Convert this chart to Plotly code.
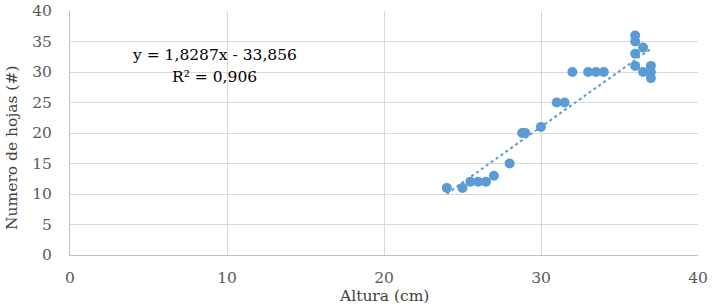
import plotly.graph_objects as go
import numpy as np

altura = [24, 25, 25.5, 26, 26.5, 27, 28, 28.8, 29, 30, 31, 31.5, 32, 33, 33.5, 34,
          36, 36, 36.5, 36, 36, 36.5, 37, 37, 37]
hojas = [11, 11, 12, 12, 12, 13, 15, 20, 20, 21, 25, 25, 30, 30, 30, 30,
         36, 35, 34, 33, 31, 30, 31, 30, 29]

slope = 1.8287
intercept = -33.856
r2 = 0.906

x_tick_vals = [0, 10, 20, 30, 40]
y_tick_vals = [0, 5, 10, 15, 20, 25, 30, 35, 40]

blue = "#5B9BD5"
ff = "DejaVu Serif"
fs = 15.5
tick_font = dict(family=ff, size=fs, color="#595959")
title_font = dict(family=ff, size=fs, color="#404040")

L, R, T, B = 70, 698, 11, 255
W, H = R - L, B - T

def px(xp):
    return (xp - L) / W

def py(yp):
    return (B - yp) / H

fig = go.Figure()
tx = np.array([min(altura), max(altura)])
fig.add_trace(go.Scatter(x=tx, y=slope * tx + intercept, mode="lines",
                         line=dict(color=blue, width=2, dash="dot"),
                         showlegend=False, hoverinfo="skip"))
fig.add_trace(go.Scatter(x=altura, y=hojas, mode="markers",
                         marker=dict(color=blue, size=10),
                         showlegend=False))

fig.update_layout(
    width=714, height=305,
    margin=dict(l=L, r=714 - R, t=T, b=305 - B),
    paper_bgcolor="white", plot_bgcolor="white",
    font=dict(family=ff, size=fs, color="#404040"),
    xaxis=dict(range=[0, 40], tickvals=x_tick_vals, showgrid=True, automargin=False,
               gridcolor="#D9D9D9", gridwidth=1, zeroline=False,
               showline=True, linecolor="#BFBFBF", linewidth=1,
               ticks="", tickfont=tick_font, ticklabelstandoff=8),
    yaxis=dict(range=[0, 40], tickvals=y_tick_vals, showgrid=True, automargin=False,
               gridcolor="#D9D9D9", gridwidth=1, zeroline=False,
               showline=True, linecolor="#BFBFBF", linewidth=1,
               ticks="", tickfont=tick_font, ticklabelstandoff=14),
)
# axis titles
fig.add_annotation(x=px(384), y=py(296), xref="paper", yref="paper", showarrow=False,
                   xanchor="center", yanchor="middle", text="Altura (cm)", font=title_font)
fig.add_annotation(x=px(12), y=py(148), xref="paper", yref="paper", showarrow=False,
                   xanchor="center", yanchor="middle", textangle=-90,
                   text="Numero de hojas (#)", font=title_font)
# trendline label
fig.add_annotation(x=px(214), y=py(55), xref="paper", yref="paper",
                   showarrow=False, align="center", xanchor="center", yanchor="middle",
                   text=f"y = {str(slope).replace('.', ',')}x - {str(-intercept).replace('.', ',')}",
                   font=dict(family=ff, size=fs, color="#000000"))
fig.add_annotation(x=px(214), y=py(77), xref="paper", yref="paper",
                   showarrow=False, align="center", xanchor="center", yanchor="middle",
                   text=f"R² = {str(r2).replace('.', ',')}",
                   font=dict(family=ff, size=fs, color="#000000"))

fig.write_html("out.html")
